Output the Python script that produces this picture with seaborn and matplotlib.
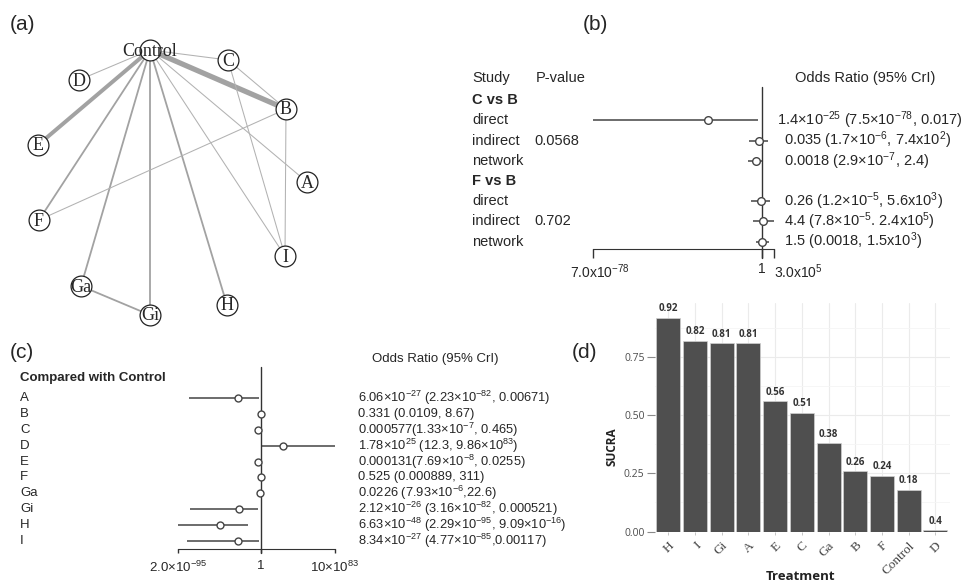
import numpy as np
import pandas as pd
import matplotlib
matplotlib.use("Agg")
import matplotlib.pyplot as plt
import matplotlib.transforms as mtransforms
import seaborn as sns

# ---- data -------------------------------------------------------------

# (a) network of treatment comparisons (layout coordinates from the graph)
nodes = ["Control", "C", "D", "B", "E", "A", "F", "I", "Ga", "H", "Gi"]
node_x = [150, 228, 79, 286, 38, 307, 39, 285, 81, 227, 150]
node_y = [50, 60, 80, 109, 145, 182, 220, 256, 286, 305, 315]
edges = [("Control", "B"), ("Control", "E"), ("Control", "C"), ("Control", "D"),
         ("Control", "A"), ("Control", "I"), ("Control", "H"), ("Control", "Gi"),
         ("Control", "Ga"), ("Control", "F"), ("C", "B"), ("C", "I"),
         ("B", "I"), ("B", "F"), ("Ga", "Gi")]
n_studies = [5, 4, 1, 1, 1, 1, 2, 2, 2, 2, 1, 1, 1, 1, 2]

# (b) node-splitting
b_groups = ["C vs B", "F vs B"]
b_rows = ["direct", "indirect", "network"]
b_pvalue = ["0.0568", "0.702"]
b_est = [1.4e-25, 0.035, 0.0018, 0.26, 4.4, 1.5]
b_lo = [7.5e-78, 1.7e-6, 2.9e-7, 1.2e-5, 7.8e-5, 0.0018]
b_hi = [0.017, 7.4e2, 2.4, 5.6e3, 2.4e5, 1.5e3]
b_text = [r"1.4×10$^{-25}$ (7.5×10$^{-78}$, 0.017)",
          r"0.035 (1.7×10$^{-6}$, 7.4x10$^{2}$)",
          r"0.0018 (2.9×10$^{-7}$, 2.4)",
          r"0.26 (1.2×10$^{-5}$, 5.6x10$^{3}$)",
          r"4.4 (7.8×10$^{-5}$. 2.4x10$^{5}$)",
          r"1.5 (0.0018, 1.5x10$^{3}$)"]
b_ticks = [7.0e-78, 1, 3.0e5]
b_ticklabels = [r"7.0x10$^{-78}$", "1", r"3.0x10$^{5}$"]

# (c) compared with control
c_treat = ["A", "B", "C", "D", "E", "F", "Ga", "Gi", "H", "I"]
c_est = [6.06e-27, 0.331, 0.000577, 1.78e25, 0.000131, 0.525, 0.0226,
         2.12e-26, 6.63e-48, 8.34e-27]
c_lo = [2.23e-82, 0.0109, 1.33e-7, 12.3, 7.69e-8, 0.000889, 7.93e-6,
        3.16e-82, 2.29e-95, 4.77e-85]
c_hi = [0.00671, 8.67, 0.465, 9.86e83, 0.0255, 311, 22.6, 0.000521,
        9.09e-16, 0.00117]
c_text = [r"6.06×10$^{-27}$ (2.23×10$^{-82}$, 0.00671)",
          r"0.331 (0.0109, 8.67)",
          r"0.000577(1.33×10$^{-7}$, 0.465)",
          r"1.78×10$^{25}$ (12.3, 9.86×10$^{83}$)",
          r"0.000131(7.69×10$^{-8}$, 0.0255)",
          r"0.525 (0.000889, 311)",
          r"0.0226 (7.93×10$^{-6}$,22.6)",
          r"2.12×10$^{-26}$ (3.16×10$^{-82}$, 0.000521)",
          r"6.63×10$^{-48}$ (2.29×10$^{-95}$, 9.09×10$^{-16}$)",
          r"8.34×10$^{-27}$ (4.77×10$^{-85}$,0.00117)"]
c_ticks = [2.0e-95, 1, 1e84]
c_ticklabels = [r"2.0×10$^{-95}$", "1", r"10×10$^{83}$"]

# (d) SUCRA ranking
treatments = ["H", "I", "Gi", "A", "E", "C", "Ga", "B", "F", "Control", "D"]
sucra = [0.92, 0.82, 0.81, 0.81, 0.56, 0.51, 0.38, 0.26, 0.24, 0.18, 0.005]
sucra_labels = ["0.92", "0.82", "0.81", "0.81", "0.56", "0.51", "0.38",
                "0.26", "0.24", "0.18", "0.4"]

# ---- style ------------------------------------------------------------

sns.set_style("white")
plt.rcParams["font.family"] = ["Liberation Sans", "DejaVu Sans"]
plt.rcParams["mathtext.fontset"] = "custom"
plt.rcParams["mathtext.rm"] = "Liberation Sans"
plt.rcParams["mathtext.it"] = "Liberation Sans:italic"
plt.rcParams["mathtext.bf"] = "Liberation Sans:bold"

W, H = 977, 585
fig = plt.figure(figsize=(W / 100, H / 100), dpi=100)


def box(x0, y0, x1, y1):
    # pixel box (top-left origin) -> figure fraction rect
    return [x0 / W, 1 - y1 / H, (x1 - x0) / W, (y1 - y0) / H]


line_col = "#444444"

# ---- (a) network plot -------------------------------------------------

ax_a = fig.add_axes(box(0, 0, 340, 330))
ax_a.set_xlim(0, 340)
ax_a.set_ylim(330, 0)
ax_a.axis("off")
pos = {n: (x, y) for n, x, y in zip(nodes, node_x, node_y)}
for (u, v), n in zip(edges, n_studies):
    ax_a.plot([pos[u][0], pos[v][0]], [pos[u][1], pos[v][1]],
              color="#a2a2a2" if n > 1 else "#b2b2b2",
              lw=0.45 + 0.3 * n ** 1.5, solid_capstyle="butt", zorder=1)
ax_a.scatter(node_x, node_y, s=225, facecolor="white", edgecolor="#222222",
             linewidth=0.9, zorder=2)
for n, x, y in zip(nodes, node_x, node_y):
    ax_a.text(x, y + 1, n, ha="center", va="center", fontsize=13,
              family="Liberation Serif", zorder=3)

# ---- (b) node-splitting forest ---------------------------------------

# row i sits at pixel 80 + 20.2 * i
ax_b = fig.add_axes(box(593, 87, 774, 249))
ax_b.set_xscale("log")
ax_b.set_xlim(7.0e-78, 3.0e5)
ax_b.set_ylim(8.37, 0.35)
b_y = [2 + 4 * g + k for g in range(len(b_groups)) for k in range(len(b_rows))]
ax_b.hlines(b_y, b_lo, b_hi, color=line_col, lw=1.1, zorder=2)
ax_b.plot(b_est, b_y, "o", ms=5.5, mfc="white", mec=line_col, mew=1, zorder=3)
ax_b.plot([1, 1], [0.35, 8.81], color="#333333", lw=1, clip_on=False)
for s in ["top", "right", "left"]:
    ax_b.spines[s].set_visible(False)
ax_b.spines["bottom"].set_color("#333333")
ax_b.set_xticks(b_ticks)
ax_b.set_xticklabels(b_ticklabels)
ax_b.minorticks_off()
ax_b.tick_params(axis="x", direction="out", length=6.5, width=1, color="#333333",
                 labelsize=10, pad=3, bottom=True)
lbls = ax_b.get_xticklabels()
lbls[2].set_ha("left")
lbls[0].set_transform(lbls[0].get_transform() +
                      mtransforms.ScaledTranslation(7 / 100, 0, fig.dpi_scale_trans))
ax_b.set_yticks([])

tb = mtransforms.blended_transform_factory(fig.transFigure, ax_b.transData)
fs_b = 10.5
ax_b.text(472 / W, -0.1, "Study", transform=tb, fontsize=fs_b, va="center")
ax_b.text(536 / W, -0.1, "P-value", transform=tb, fontsize=fs_b, va="center")
ax_b.text(795 / W, -0.1, "Odds Ratio (95% CrI)", transform=tb, fontsize=fs_b,
          va="center")
for g, grp in enumerate(b_groups):
    ax_b.text(472 / W, 1 + 4 * g, grp, transform=tb, fontsize=fs_b,
              fontweight="bold", va="center")
    ax_b.text(534 / W, 3 + 4 * g, b_pvalue[g], transform=tb, fontsize=fs_b,
              va="center")
    for k, r in enumerate(b_rows):
        ax_b.text(472 / W, 2 + 4 * g + k, r, transform=tb, fontsize=fs_b,
                  va="center")
for i, (y, t) in enumerate(zip(b_y, b_text)):
    ax_b.text((777 if i == 0 else 784) / W, y, t, transform=tb, fontsize=fs_b,
              va="center")

# ---- (c) forest vs control -------------------------------------------

ax_c = fig.add_axes(box(178, 367, 335, 549))
ax_c.set_xscale("log")
ax_c.set_xlim(2.0e-95, 1e84)
ax_c.set_ylim(9.5, -1.95)
c_y = np.arange(len(c_treat))
ax_c.hlines(c_y, c_lo, c_hi, color=line_col, lw=1.1, zorder=2)
ax_c.plot(c_est, c_y, "o", ms=5, mfc="white", mec=line_col, mew=1, zorder=3)
ax_c.plot([1, 1], [-1.95, 9.75], color="#333333", lw=1, clip_on=False)
for s in ["top", "right", "left"]:
    ax_c.spines[s].set_visible(False)
ax_c.spines["bottom"].set_color("#333333")
ax_c.set_xticks(c_ticks)
ax_c.set_xticklabels(c_ticklabels)
ax_c.minorticks_off()
ax_c.tick_params(axis="x", direction="out", length=3, width=1, color="#333333",
                 labelsize=9.5, pad=5, bottom=True)
ax_c.set_yticks([])

tc = mtransforms.blended_transform_factory(fig.transFigure, ax_c.transData)
fs_c = 9.3
ax_c.text(20 / W, -1.25, "Compared with Control", transform=tc, fontsize=9.5,
          fontweight="bold", va="center")
ax_c.text(372 / W, -2.45, "Odds Ratio (95% CrI)", transform=tc, fontsize=9.5,
          va="center")
for y, name, t in zip(c_y, c_treat, c_text):
    ax_c.text(20 / W, y, name, transform=tc, fontsize=9.5, va="center")
    ax_c.text(358 / W, y, t, transform=tc, fontsize=fs_c, va="center")

# ---- (d) SUCRA bar chart ---------------------------------------------

ax_d = fig.add_axes(box(655, 303, 950, 532))
df = pd.DataFrame({"Treatment": treatments, "SUCRA": sucra})
sns.barplot(data=df, x="Treatment", y="SUCRA", color="#4f4f4f", saturation=1,
            width=0.9, edgecolor="#d0d0d0", linewidth=0.5, ax=ax_d, zorder=2)
ax_d.set_xlim(-0.5, 10.55)
ax_d.set_ylim(-0.002, 0.983)
ax_d.set_yticks([0, 0.25, 0.5, 0.75])
ax_d.set_yticks([0.125, 0.375, 0.625, 0.875], minor=True)
ax_d.set_yticklabels(["0.00", "0.25", "0.50", "0.75"], family="Open Sans",
                     fontsize=7.5, color="#4d4d4d")
ax_d.set_xticks(range(len(treatments)))
ax_d.set_xticklabels(treatments, rotation=45, ha="right", rotation_mode="anchor",
                     family="Liberation Serif", fontsize=9.5, color="#444444")
ax_d.grid(True, which="major", color="#ebebeb", lw=0.8, zorder=0)
ax_d.grid(True, which="minor", axis="y", color="#f5f5f5", lw=0.6, zorder=0)
ax_d.set_axisbelow(True)
for s in ax_d.spines.values():
    s.set_visible(False)
ax_d.tick_params(axis="y", which="major", left=True, length=6, width=0.8,
                 color="#8a8a8a", pad=1.5)
ax_d.tick_params(axis="y", which="minor", left=False)
ax_d.tick_params(axis="x", bottom=True, length=2.5, width=0.6, color="#bbbbbb",
                 pad=3)
ax_d.set_xlabel("")
ax_d.set_ylabel("")
for i, (v, t) in enumerate(zip(sucra, sucra_labels)):
    ax_d.annotate(t, (i, v), xytext=(0, 2.5), textcoords="offset points",
                  ha="center", va="bottom", fontsize=7, fontweight="bold",
                  family="Open Sans", color="#333333")
fig.text(612 / W, 1 - 447 / H, "SUCRA", rotation=90, ha="center", va="center",
         fontsize=8.5, fontweight="bold", family="Open Sans", color="#222222")
fig.text(800 / W, 1 - 577 / H, "Treatment", ha="center", va="center",
         fontsize=9.5, fontweight="bold", family="Open Sans", color="#222222")

# ---- panel letters ----------------------------------------------------

for lab, x, y in [("(a)", 10, 25), ("(b)", 583, 24), ("(c)", 10, 352),
                  ("(d)", 572, 353)]:
    fig.text(x / W, 1 - y / H, lab, fontsize=15, va="center", ha="left")

fig.savefig("out.png", dpi=100)
